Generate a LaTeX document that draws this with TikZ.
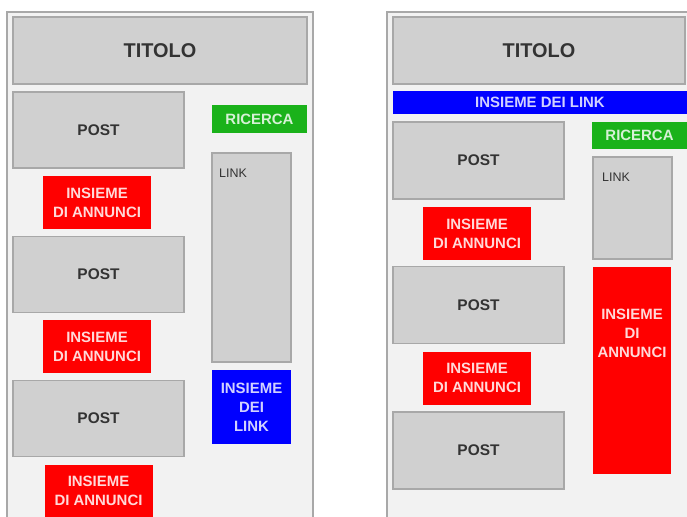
\documentclass[tikz,border=0pt]{standalone}
\usepackage{fontspec}
\setmainfont{Liberation Sans}

\definecolor{sfondo}{RGB}{242,242,242}
\definecolor{grigio}{RGB}{208,208,208}
\definecolor{bordo}{RGB}{168,168,168}
\definecolor{verde}{RGB}{26,178,26}

\begin{document}
\begin{tikzpicture}[x=1bp,y=-1bp,
  grigia/.style={draw=bordo,fill=grigio,line width=1.3bp,inner sep=0pt,text=black!80,font=\bfseries\fontsize{15.5}{19}\selectfont},
  colorata/.style={inner sep=0pt,align=center,font=\bfseries\fontsize{15}{19}\selectfont},
  rossa/.style={colorata,fill=red,text=white!85!red},
  blu/.style={colorata,fill=blue,text=white!82!blue},
  verdina/.style={colorata,fill=verde,text=white!82!verde},
  etichetta/.style={inner sep=0pt,anchor=west,text=black!80,font=\fontsize{12.5}{15}\selectfont}]

\clip (0,0) rectangle (687,517);
\fill[white] (0,0) rectangle (687,517);

% pannello sinistro
\fill[sfondo] (7,12) rectangle (313,520);
\draw[bordo,line width=1.5bp] (7,520) -- (7,12) -- (313,12) -- (313,520);

\node[grigia,minimum width=294bp,minimum height=67bp,font=\bfseries\fontsize{20}{24}\selectfont] (titolosx) at (160,50.5) {TITOLO};

\foreach \i/\y in {1/130,2/274.5,3/418.5}
   \node[grigia,minimum width=171bp,minimum height=76bp] (postsx\i) at (98.5,\y) {POST};
\foreach \i/\x/\y in {1/97/202.5,2/97/346.5,3/98.5/491}
   \node[rossa,minimum width=108bp,minimum height=53bp] (annuncisx\i) at (\x,\y) {INSIEME\\DI ANNUNCI};

\node[verdina,minimum width=95bp,minimum height=28bp] (ricercasx) at (259.5,119) {RICERCA};
\node[grigia,minimum width=79bp,minimum height=209bp] (linksx) at (251.5,257.5) {};
\node[etichetta] (linktestosx) at (219,173) {LINK};
\node[blu,minimum width=79bp,minimum height=74bp] (insiemelinksx) at (251.5,407) {INSIEME\\DEI\\LINK};

% pannello destro
\fill[sfondo] (387,12) rectangle (690,520);
\draw[bordo,line width=1.5bp] (387,520) -- (387,12) -- (690,12);

\node[grigia,minimum width=292bp,minimum height=67bp,font=\bfseries\fontsize{20}{24}\selectfont] (titolodx) at (539,50.5) {TITOLO};
\node[blu,minimum width=294bp,minimum height=23bp] (insiemelinkdx) at (540,102.5) {INSIEME DEI LINK};

\foreach \i/\y in {1/160.5,2/305,3/450.5}
   \node[grigia,minimum width=171bp,minimum height=77bp] (postdx\i) at (478.5,\y) {POST};
\foreach \i/\y in {1/233.5,2/378}
   \node[rossa,minimum width=108bp,minimum height=53bp] (annuncidx\i) at (477,\y) {INSIEME\\DI ANNUNCI};

\node[verdina,minimum width=95bp,minimum height=27bp] (ricercadx) at (639.5,135.5) {RICERCA};
\node[grigia,minimum width=79bp,minimum height=102bp] (linkdx) at (632.5,208) {};
\node[etichetta] (linktestodx) at (602,177) {LINK};
\node[rossa,minimum width=78bp,minimum height=207bp] (annunciboxdx) at (632,370.5) {};
\node[rossa,fill=none] (annuncitestodx) at (632,333) {INSIEME\\DI\\ANNUNCI};
\end{tikzpicture}
\end{document}
